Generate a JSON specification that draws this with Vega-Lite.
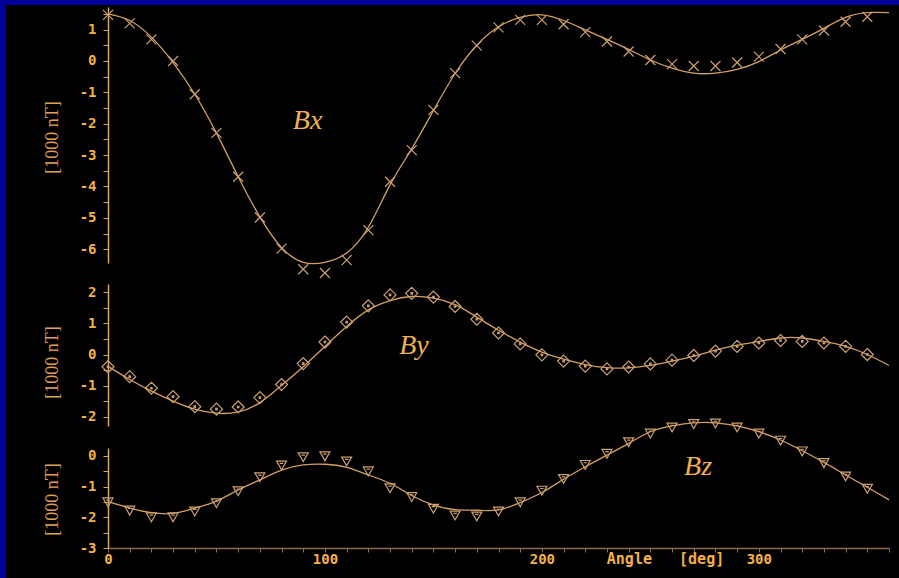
{
  "$schema": "https://vega.github.io/schema/vega-lite/v6.json",
  "autosize": {"type": "none"},
  "padding": {"left": 6, "top": 5, "right": 0, "bottom": 0},
  "width": 893,
  "height": 573,
  "background": "#00009a",
  "config": {
    "view": {"fill": "#000000", "stroke": null},
    "axis": {
      "grid": false,
      "labelFlush": false,
      "labelOverlap": false,
      "labelColor": "#f4b044",
      "labelFont": "DejaVu Sans Mono",
      "labelFontWeight": "bold",
      "labelFontSize": 14
    },
    "axisY": {
      "orient": "left",
      "offset": -102,
      "labelExpr": "datum.value % 1 == 0 ? (datum.value < 0 ? '-' : '') + format(abs(datum.value), 'd') : ''",
      "domainColor": "#d8a860",
      "domainWidth": 1.5,
      "tickColor": "#d8a860",
      "tickSize": 5,
      "labelPadding": 7,
      "titleFont": "Liberation Serif",
      "titleFontSize": 18,
      "titleFontWeight": "normal",
      "titleColor": "#e0a050",
      "titleAngle": -90,
      "titleX": -56,
      "titleAlign": "center",
      "titleBaseline": "middle"
    }
  },
  "datasets": {
    "fit": [
      {"angle": 0, "bx": 1.50, "by": -0.38, "bz": -1.49},
      {"angle": 10, "bx": 1.29, "by": -0.80, "bz": -1.70},
      {"angle": 20, "bx": 0.76, "by": -1.17, "bz": -1.85},
      {"angle": 30, "bx": -0.05, "by": -1.49, "bz": -1.87},
      {"angle": 40, "bx": -1.06, "by": -1.75, "bz": -1.70},
      {"angle": 50, "bx": -2.30, "by": -1.88, "bz": -1.47},
      {"angle": 60, "bx": -3.69, "by": -1.84, "bz": -1.11},
      {"angle": 70, "bx": -4.97, "by": -1.54, "bz": -0.78},
      {"angle": 80, "bx": -5.95, "by": -0.99, "bz": -0.46},
      {"angle": 90, "bx": -6.42, "by": -0.39, "bz": -0.29},
      {"angle": 100, "bx": -6.42, "by": 0.26, "bz": -0.27},
      {"angle": 110, "bx": -6.12, "by": 0.90, "bz": -0.37},
      {"angle": 120, "bx": -5.30, "by": 1.43, "bz": -0.62},
      {"angle": 130, "bx": -3.95, "by": 1.73, "bz": -0.89},
      {"angle": 140, "bx": -2.80, "by": 1.86, "bz": -1.29},
      {"angle": 150, "bx": -1.58, "by": 1.81, "bz": -1.60},
      {"angle": 160, "bx": -0.40, "by": 1.60, "bz": -1.75},
      {"angle": 170, "bx": 0.50, "by": 1.20, "bz": -1.77},
      {"angle": 180, "bx": 1.09, "by": 0.78, "bz": -1.76},
      {"angle": 190, "bx": 1.39, "by": 0.40, "bz": -1.52},
      {"angle": 200, "bx": 1.47, "by": 0.08, "bz": -1.19},
      {"angle": 210, "bx": 1.29, "by": -0.15, "bz": -0.76},
      {"angle": 220, "bx": 0.99, "by": -0.32, "bz": -0.35},
      {"angle": 230, "bx": 0.69, "by": -0.42, "bz": 0.03},
      {"angle": 240, "bx": 0.37, "by": -0.43, "bz": 0.41},
      {"angle": 250, "bx": 0.03, "by": -0.35, "bz": 0.79},
      {"angle": 260, "bx": -0.23, "by": -0.21, "bz": 0.98},
      {"angle": 270, "bx": -0.39, "by": -0.05, "bz": 1.08},
      {"angle": 280, "bx": -0.39, "by": 0.14, "bz": 1.08},
      {"angle": 290, "bx": -0.27, "by": 0.30, "bz": 0.98},
      {"angle": 300, "bx": -0.02, "by": 0.42, "bz": 0.79},
      {"angle": 310, "bx": 0.35, "by": 0.53, "bz": 0.52},
      {"angle": 320, "bx": 0.69, "by": 0.53, "bz": 0.17},
      {"angle": 330, "bx": 1.04, "by": 0.42, "bz": -0.21},
      {"angle": 340, "bx": 1.39, "by": 0.26, "bz": -0.62},
      {"angle": 350, "bx": 1.54, "by": 0.00, "bz": -1.02},
      {"angle": 360, "bx": 1.54, "by": -0.35, "bz": -1.43}
    ],
    "meas": [
      {"angle": 0, "bx": 1.47, "by": -0.39, "bz": -1.49},
      {"angle": 10, "bx": 1.20, "by": -0.71, "bz": -1.76},
      {"angle": 20, "bx": 0.69, "by": -1.08, "bz": -1.98},
      {"angle": 30, "bx": 0.00, "by": -1.35, "bz": -1.98},
      {"angle": 40, "bx": -1.06, "by": -1.67, "bz": -1.79},
      {"angle": 50, "bx": -2.29, "by": -1.75, "bz": -1.52},
      {"angle": 60, "bx": -3.69, "by": -1.68, "bz": -1.13},
      {"angle": 70, "bx": -4.99, "by": -1.38, "bz": -0.67},
      {"angle": 80, "bx": -5.98, "by": -0.96, "bz": -0.29},
      {"angle": 90, "bx": -6.64, "by": -0.29, "bz": -0.02},
      {"angle": 100, "bx": -6.76, "by": 0.40, "bz": 0.01},
      {"angle": 110, "bx": -6.35, "by": 1.04, "bz": -0.16},
      {"angle": 120, "bx": -5.39, "by": 1.56, "bz": -0.48},
      {"angle": 130, "bx": -3.85, "by": 1.91, "bz": -1.03},
      {"angle": 140, "bx": -2.84, "by": 1.96, "bz": -1.32},
      {"angle": 150, "bx": -1.56, "by": 1.84, "bz": -1.70},
      {"angle": 160, "bx": -0.39, "by": 1.54, "bz": -1.92},
      {"angle": 170, "bx": 0.49, "by": 1.13, "bz": -1.95},
      {"angle": 180, "bx": 1.07, "by": 0.69, "bz": -1.79},
      {"angle": 190, "bx": 1.31, "by": 0.34, "bz": -1.49},
      {"angle": 200, "bx": 1.31, "by": -0.01, "bz": -1.11},
      {"angle": 210, "bx": 1.17, "by": -0.21, "bz": -0.73},
      {"angle": 220, "bx": 0.92, "by": -0.37, "bz": -0.27},
      {"angle": 230, "bx": 0.62, "by": -0.46, "bz": 0.09},
      {"angle": 240, "bx": 0.30, "by": -0.40, "bz": 0.47},
      {"angle": 250, "bx": 0.03, "by": -0.30, "bz": 0.75},
      {"angle": 260, "bx": -0.10, "by": -0.18, "bz": 0.95},
      {"angle": 270, "bx": -0.16, "by": -0.03, "bz": 1.06},
      {"angle": 280, "bx": -0.16, "by": 0.11, "bz": 1.08},
      {"angle": 290, "bx": -0.05, "by": 0.26, "bz": 0.95},
      {"angle": 300, "bx": 0.14, "by": 0.37, "bz": 0.75},
      {"angle": 310, "bx": 0.38, "by": 0.45, "bz": 0.52},
      {"angle": 320, "bx": 0.69, "by": 0.42, "bz": 0.17},
      {"angle": 330, "bx": 0.97, "by": 0.37, "bz": -0.21},
      {"angle": 340, "bx": 1.25, "by": 0.26, "bz": -0.65},
      {"angle": 350, "bx": 1.41, "by": 0.00, "bz": -1.05}
    ],
    "labels": [
      {"panel": "Bx", "angle": 92, "value": -2.17, "label": "Bx"},
      {"panel": "By", "angle": 141, "value": 0.02, "label": "By"},
      {"panel": "Bz", "angle": 272, "value": -0.62, "label": "Bz"}
    ]
  },
  "encoding": {
    "x": {
      "field": "angle",
      "type": "quantitative",
      "scale": {"domain": [0, 360], "range": [102, 883]},
      "axis": {
        "orient": "bottom",
        "offset": -30,
        "values": [0, 10, 20, 30, 40, 50, 60, 70, 80, 90, 100, 110, 120, 130, 140, 150, 160, 170, 180, 190, 200, 210, 220, 230, 240, 250, 260, 270, 280, 290, 300, 310, 320, 330, 340, 350, 360],
        "labelExpr": "datum.value % 100 == 0 && datum.value < 360 ? format(datum.value, 'd') : ''",
        "domainColor": "#8c6c48",
        "domainWidth": 1.5,
        "tickColor": "#8c6c48",
        "tickSize": 4,
        "labelPadding": 0,
        "title": "Angle\u00a0\u00a0\u00a0[deg]",
        "titleX": 659,
        "titleY": 10,
        "titleAlign": "center",
        "titleBaseline": "middle",
        "titleColor": "#f4b044",
        "titleFont": "DejaVu Sans Mono",
        "titleFontWeight": "bold",
        "titleFontSize": 15
      }
    }
  },
  "layer": [
    {
      "data": {"name": "fit"},
      "mark": {"type": "line", "interpolate": "natural", "color": "#d4a060", "strokeWidth": 1.3},
      "encoding": {
        "y": {
          "field": "bx",
          "type": "quantitative",
          "scale": {"domain": [-6.44, 1.72], "range": [258, 2], "nice": false, "zero": false},
          "axis": {
            "orient": "left",
            "offset": -102,
            "values": [-6, -5.5, -5, -4.5, -4, -3.5, -3, -2.5, -2, -1.5, -1, -0.5, 0, 0.5, 1, 1.5],
            "title": "[1000 nT]",
            "titleX": -56,
            "titleY": 132
          }
        }
      }
    },
    {
      "data": {"name": "meas"},
      "mark": {"type": "point", "shape": "M-1,-1L1,1M-1,1L1,-1", "filled": false, "size": 100, "color": "#cca070", "strokeWidth": 1.2, "opacity": 1},
      "encoding": {
        "y": {"field": "bx", "type": "quantitative", "scale": {"domain": [-6.44, 1.72], "range": [258, 2], "nice": false, "zero": false}, "axis": null}
      }
    },
    {
      "data": {"name": "labels"},
      "transform": [{"filter": "datum.panel == 'Bx'"}],
      "mark": {"type": "text", "font": "Liberation Serif", "fontStyle": "italic", "fontSize": 28, "color": "#f0b050", "align": "center", "baseline": "alphabetic"},
      "encoding": {
        "y": {"field": "value", "type": "quantitative", "scale": {"domain": [-6.44, 1.72], "range": [258, 2], "nice": false, "zero": false}, "axis": null},
        "text": {"field": "label"}
      }
    },
    {
      "data": {"name": "fit"},
      "mark": {"type": "line", "interpolate": "natural", "color": "#d4a060", "strokeWidth": 1.3},
      "encoding": {
        "y": {
          "field": "by",
          "type": "quantitative",
          "scale": {"domain": [-2.29, 2.26], "range": [421, 279], "nice": false, "zero": false},
          "axis": {
            "orient": "left",
            "offset": -102,
            "values": [-2, -1.5, -1, -0.5, 0, 0.5, 1, 1.5, 2],
            "title": "[1000 nT]",
            "titleX": -56,
            "titleY": 357
          }
        }
      }
    },
    {
      "data": {"name": "meas"},
      "mark": {"type": "point", "shape": "M0,-1L1,0L0,1L-1,0Z M-0.12,-0.12L0.12,-0.12L0.12,0.12L-0.12,0.12Z", "filled": false, "size": 144, "color": "#cca070", "strokeWidth": 1.2, "opacity": 1},
      "encoding": {
        "y": {"field": "by", "type": "quantitative", "scale": {"domain": [-2.29, 2.26], "range": [421, 279], "nice": false, "zero": false}, "axis": null}
      }
    },
    {
      "data": {"name": "labels"},
      "transform": [{"filter": "datum.panel == 'By'"}],
      "mark": {"type": "text", "font": "Liberation Serif", "fontStyle": "italic", "fontSize": 28, "color": "#f0b050", "align": "center", "baseline": "alphabetic"},
      "encoding": {
        "y": {"field": "value", "type": "quantitative", "scale": {"domain": [-2.29, 2.26], "range": [421, 279], "nice": false, "zero": false}, "axis": null},
        "text": {"field": "label"}
      }
    },
    {
      "data": {"name": "fit"},
      "mark": {"type": "line", "interpolate": "natural", "color": "#d4a060", "strokeWidth": 1.3},
      "encoding": {
        "y": {
          "field": "bz",
          "type": "quantitative",
          "scale": {"domain": [-3, 0.26], "range": [543, 443], "nice": false, "zero": false},
          "axis": {
            "orient": "left",
            "offset": -102,
            "values": [-3, -2.5, -2, -1.5, -1, -0.5, 0],
            "title": "[1000 nT]",
            "titleX": -56,
            "titleY": 494
          }
        }
      }
    },
    {
      "data": {"name": "meas"},
      "mark": {"type": "point", "shape": "M-1,-0.75L1,-0.75L0,1Z M-0.35,-0.3L0.35,-0.3", "filled": false, "size": 100, "color": "#cca070", "strokeWidth": 1.2, "opacity": 1},
      "encoding": {
        "y": {"field": "bz", "type": "quantitative", "scale": {"domain": [-3, 0.26], "range": [543, 443], "nice": false, "zero": false}, "axis": null}
      }
    },
    {
      "data": {"name": "labels"},
      "transform": [{"filter": "datum.panel == 'Bz'"}],
      "mark": {"type": "text", "font": "Liberation Serif", "fontStyle": "italic", "fontSize": 28, "color": "#f0b050", "align": "center", "baseline": "alphabetic"},
      "encoding": {
        "y": {"field": "value", "type": "quantitative", "scale": {"domain": [-3, 0.26], "range": [543, 443], "nice": false, "zero": false}, "axis": null},
        "text": {"field": "label"}
      }
    }
  ],
  "resolve": {"scale": {"y": "independent"}, "axis": {"y": "independent"}}
}
